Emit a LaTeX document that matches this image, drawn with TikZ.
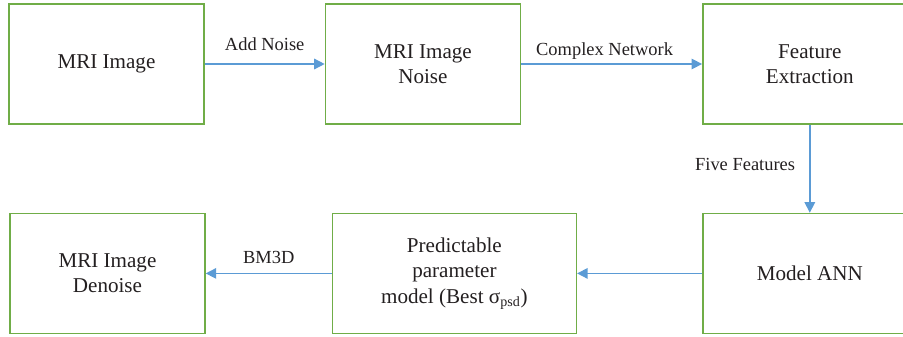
\documentclass[tikz,border=0pt]{standalone}
\usepackage{fontspec}
\setmainfont{Liberation Serif}
\usepackage{xcolor}
\definecolor{boxgreen}{RGB}{112,173,71}
\definecolor{arrblue}{RGB}{91,155,213}
\definecolor{txtgray}{RGB}{35,31,32}
\usepackage{tikz}
\usetikzlibrary{arrows.meta,positioning}

\begin{document}
\begin{tikzpicture}[
    stage/.style={rectangle, draw=boxgreen, line width=0.8pt,
                 minimum height=2.4cm, align=center, text=txtgray,
                 font=\fontsize{12}{14.5}\selectfont},
    arr/.style={-{Triangle[length=6pt,width=6pt]}, arrblue, line width=0.8pt},
    lbl/.style={text=txtgray, font=\fontsize{10.5}{12}\selectfont, inner sep=2pt},
  ]
    \useasboundingbox (0,0) rectangle (18.06,-6.72);

    % top row
    \node[stage, minimum width=3.9cm] (img) at (2.13,-1.28) {MRI Image};
    \node[stage, minimum width=3.9cm, right=2.4cm of img] (noisy) {MRI Image\\Noise};
    \node[stage, minimum width=4.28cm, right=3.62cm of noisy] (feat) {Feature\\Extraction};

    % bottom row
    \node[stage, minimum width=4.28cm, below=1.76cm of feat] (ann) {Model ANN};
    \node[stage, minimum width=4.88cm, left=2.50cm of ann] (pred)
        {Predictable\\parameter\\model (Best σ\textsubscript{psd})};
    \node[stage, minimum width=3.9cm, left=2.52cm of pred] (denoise) {MRI Image\\Denoise};

    \draw[arr] (img) -- node[lbl, above=5pt] (addnoise) {Add Noise} (noisy);
    \draw[arr] (noisy) -- node[lbl, above=0pt, xshift=-4pt] (complex) {Complex Network} (feat);
    \draw[arr] (feat) -- node[lbl, left=6pt, pos=0.45] (five) {Five Features} (ann);
    \draw[arr] (ann) -- (pred);
    \draw[arr] (pred) -- node[lbl, above=3pt] (bm) {BM3D} (denoise);
  \end{tikzpicture}
\end{document}
